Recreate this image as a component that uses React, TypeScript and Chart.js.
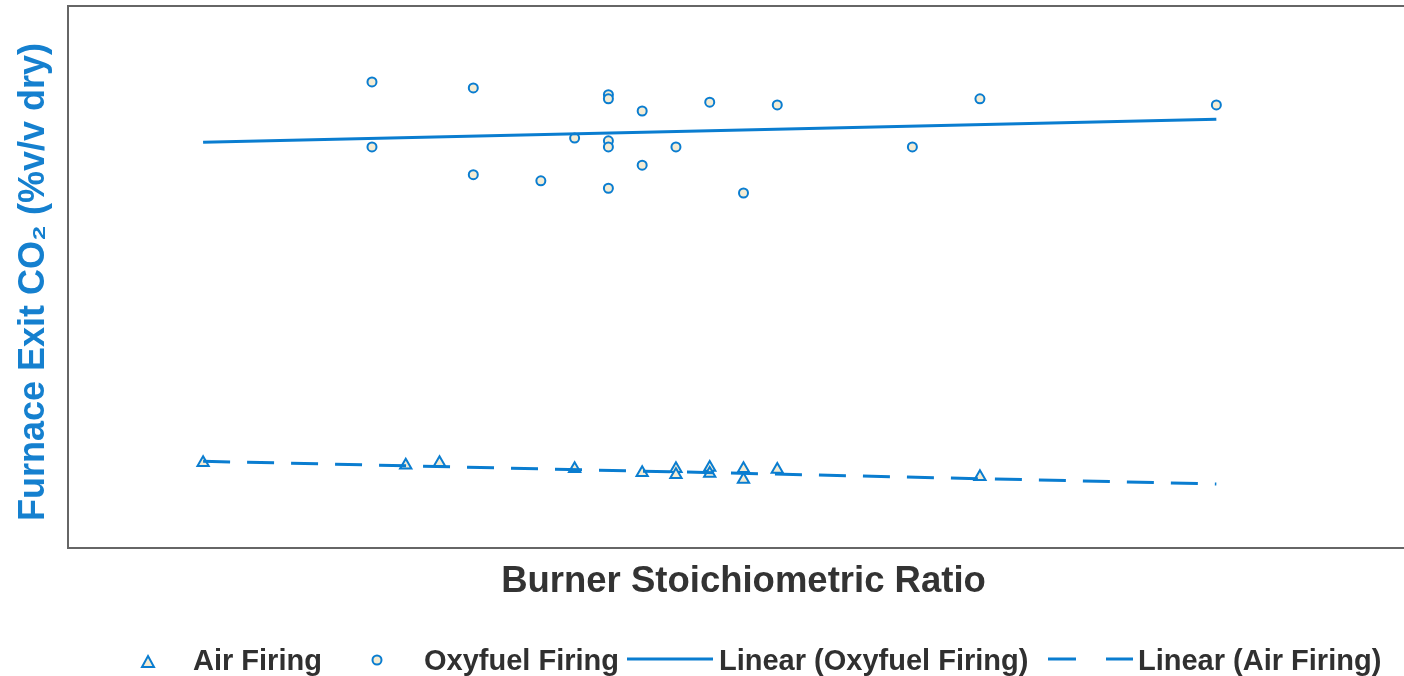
import React, { useEffect, useRef } from 'react';
import { Chart, registerables } from 'chart.js';

Chart.register(...registerables);

// Burner stoichiometric ratio (x) and furnace exit CO2 (y)
const oxyX = [1.10, 1.10, 1.13, 1.13, 1.15, 1.16, 1.17, 1.17, 1.17, 1.17, 1.17, 1.18, 1.18, 1.19, 1.20, 1.21, 1.22, 1.26, 1.28, 1.35];
const oxyY = [68.8, 59.2, 67.9, 55.1, 54.2, 60.5, 66.9, 66.3, 60.1, 59.2, 53.1, 64.5, 56.5, 59.2, 65.8, 52.4, 65.4, 59.2, 66.3, 65.4];

const airX = [1.05, 1.11, 1.12, 1.16, 1.18, 1.19, 1.19, 1.20, 1.20, 1.21, 1.21, 1.22, 1.28];
const airY = [12.6, 12.2, 12.6, 11.7, 11.1, 11.7, 10.8, 11.9, 11.0, 11.7, 10.1, 11.6, 10.5];

const trendX = [1.05, 1.35];
const oxyTrendY = [59.9, 63.3];
const airTrendY = [12.8, 9.45];

const xRange = [1.01, 1.41];
const yRange = [0, 80];

const legendLabels = ['Air Firing', 'Oxyfuel Firing', 'Linear (Oxyfuel Firing)', 'Linear (Air Firing)'];

const BLUE = '#0a7dd0';
const CREAM = '#f4ecd4';
const FONT = "'Liberation Sans', Arial, 'DejaVu Sans', sans-serif";

const pts = (xs: number[], ys: number[]) => xs.map((x, i) => ({ x, y: ys[i] }));

export default function App() {
  const ref = useRef<HTMLCanvasElement>(null);

  useEffect(() => {
    if (!ref.current) return;
    const borderPlugin = {
      id: 'plotBorder',
      afterDatasetsDraw(chart: any) {
        const { ctx, chartArea: a } = chart;
        ctx.save();
        ctx.strokeStyle = '#666666';
        ctx.lineWidth = 2;
        ctx.strokeRect(a.left, a.top, a.right - a.left, a.bottom - a.top);
        ctx.restore();
      },
    };
    const chart = new Chart(ref.current, {
      type: 'scatter',
      data: {
        datasets: [
          {
            label: legendLabels[2],
            type: 'line',
            data: pts(trendX, oxyTrendY),
            borderColor: BLUE,
            borderWidth: 3,
            pointRadius: 0,
            fill: false,
            order: 0,
          } as any,
          {
            label: legendLabels[3],
            type: 'line',
            data: pts(trendX, airTrendY),
            borderColor: BLUE,
            borderWidth: 3,
            borderDash: [27, 17],
            pointRadius: 0,
            fill: false,
            order: 0,
          } as any,
          {
            label: legendLabels[0],
            data: pts(airX, airY),
            pointStyle: 'triangle',
            pointRadius: 6.5,
            pointBorderWidth: 2,
            pointBorderColor: BLUE,
            pointBackgroundColor: CREAM,
            order: 1,
          },
          {
            label: legendLabels[1],
            data: pts(oxyX, oxyY),
            pointStyle: 'circle',
            pointRadius: 4.5,
            pointBorderWidth: 2,
            pointBorderColor: BLUE,
            pointBackgroundColor: CREAM,
            order: 1,
          },
        ],
      },
      options: {
        animation: false,
        responsive: false,
        layout: { autoPadding: false, padding: { top: 6, bottom: 72, left: 0, right: 0 } },
        plugins: { legend: { display: false }, tooltip: { enabled: false } },
        scales: {
          x: {
            type: 'linear',
            min: xRange[0],
            max: xRange[1],
            ticks: { display: false },
            grid: { display: false, drawTicks: false },
            border: { display: false },
            title: {
              display: true,
              text: 'Burner Stoichiometric Ratio',
              color: '#333333',
              font: { family: FONT, size: 36.5, weight: 'bold', lineHeight: 1.2 },
              padding: { top: 12.2, bottom: 0 },
            },
          },
          y: {
            type: 'linear',
            min: yRange[0],
            max: yRange[1],
            ticks: { display: false },
            grid: { display: false, drawTicks: false },
            border: { display: false },
            title: {
              display: true,
              text: 'Furnace Exit CO₂ (%v/v dry) ',
              color: '#1580cf',
              font: { family: FONT, size: 36, weight: 'bold', lineHeight: 1.2 },
              padding: { top: 12, bottom: 12.8 },
            },
          },
        },
      },
      plugins: [borderPlugin],
    });
    return () => chart.destroy();
  }, []);

  const textStyle: React.CSSProperties = {
    position: 'absolute',
    top: 660,
    transform: 'translateY(-50%)',
    font: `bold 29px ${FONT}`,
    color: '#303030',
    lineHeight: 1,
    whiteSpace: 'nowrap',
  };

  return (
    <div style={{ position: 'fixed', left: 0, top: 0, width: 1404, height: 676, overflow: 'hidden', background: '#fff' }}>
      <canvas ref={ref} width={1419} height={676} style={{ position: 'absolute', left: 0, top: 0, width: 1419, height: 676 }} />
      <svg width={1404} height={676} style={{ position: 'absolute', left: 0, top: 0, pointerEvents: 'none' }}>
        <polygon points="148,656 154,667 142,667" fill={CREAM} stroke={BLUE} strokeWidth={2} />
        <circle cx={377} cy={660} r={4.5} fill={CREAM} stroke={BLUE} strokeWidth={2} />
        <line x1={627} y1={659} x2={713} y2={659} stroke={BLUE} strokeWidth={3} />
        <line x1={1048} y1={659} x2={1133} y2={659} stroke={BLUE} strokeWidth={3} strokeDasharray="28 30" />
      </svg>
      <span style={{ ...textStyle, left: 193 }}>{legendLabels[0]}</span>
      <span style={{ ...textStyle, left: 424 }}>{legendLabels[1]}</span>
      <span style={{ ...textStyle, left: 719 }}>{legendLabels[2]}</span>
      <span style={{ ...textStyle, left: 1138 }}>{legendLabels[3]}</span>
    </div>
  );
}
